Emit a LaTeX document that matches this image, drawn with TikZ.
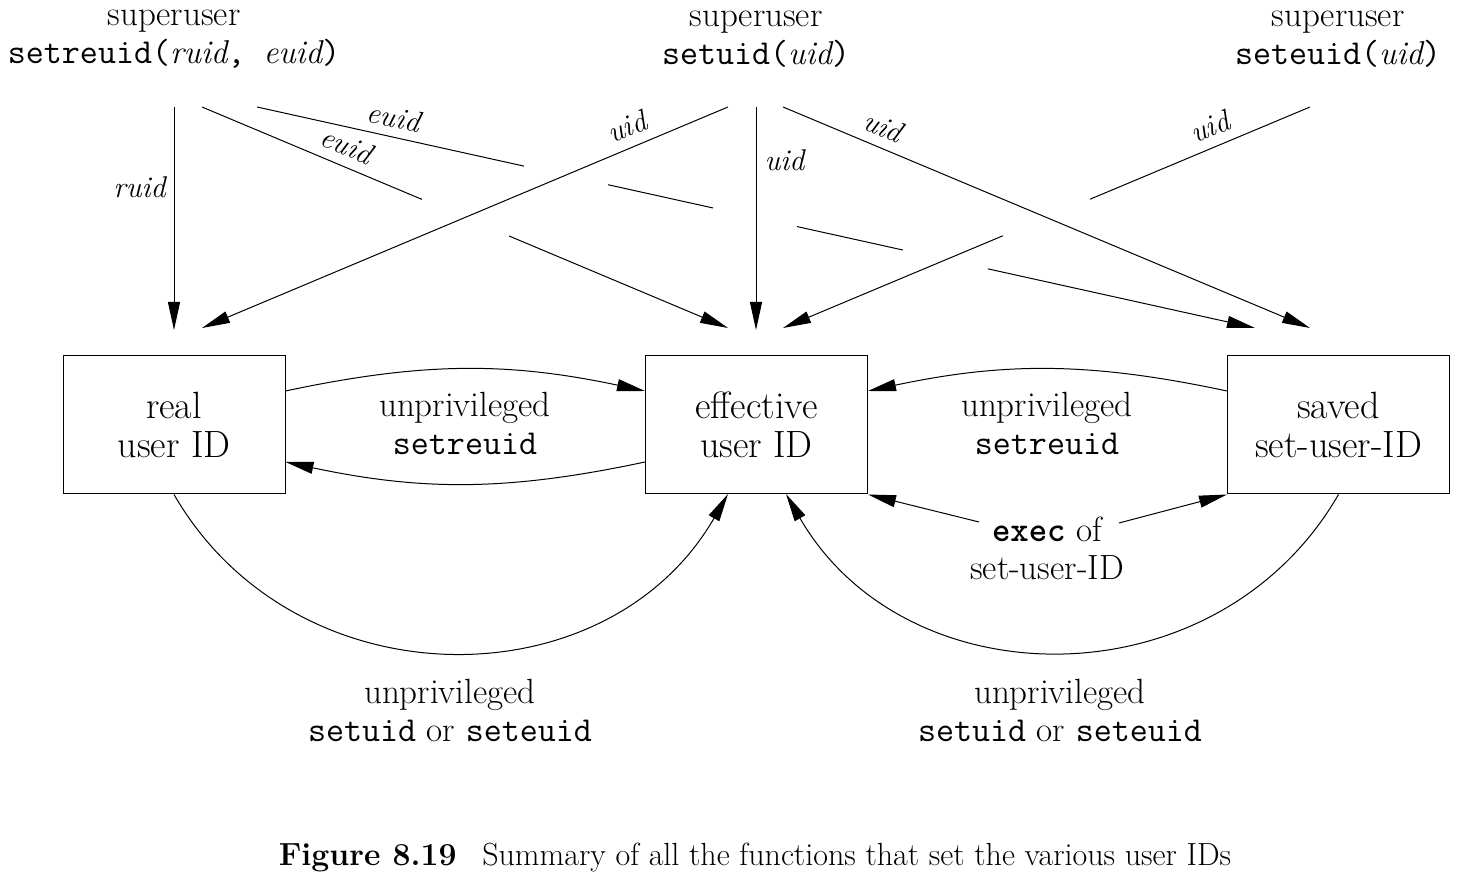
\documentclass[tikz,border=0pt]{standalone}
\usetikzlibrary{arrows.meta,calc}
\newcommand\boxfs{\fontsize{38}{39}\selectfont}
\newcommand\rmfs{\fontsize{35}{38}\selectfont}
\newcommand\itfs{\fontsize{30}{36}\selectfont\itshape}
\newcommand\itt[1]{{\fontsize{33}{38}\selectfont\itshape #1}}
\newcommand\ttc[1]{{\fontsize{35}{38}\selectfont\ttfamily #1}}
\begin{document}
\begin{tikzpicture}[x=1pt,y=1pt,
  box/.style={draw, line width=1pt, minimum width=222pt, minimum height=138pt, inner sep=0pt, align=center, font=\boxfs},
  lbl/.style={align=center, inner sep=0pt, font=\rmfs},
  ilbl/.style={inner sep=0pt, font=\itfs},
  ln/.style={line width=1pt},
  tip/.style={-{Triangle[length=28pt,width=12pt]}}]
\useasboundingbox (0,0) rectangle (1463,880);

% boxes
\node[box] (real) at (174,455) {real\\user ID};
\node[box] (eff) at (756.5,455) {effective\\user ID};
\node[box] (saved) at (1338.5,455) {saved\\set-user-ID};

% top labels
\node[lbl] (sreuid) at (174,841) {superuser\\\ttc{setreuid(}\itt{ruid}\ttc{, }\itt{euid}\ttc{)}};
\node[lbl] (suid) at (756,841) {superuser\\\ttc{setuid(}\itt{uid}\ttc{)}};
\node[lbl] (seuid) at (1338,841) {superuser\\\ttc{seteuid(}\itt{uid}\ttc{)}};

% start and end points
\coordinate (a1s) at (174,773); \coordinate (a1e) at (174,550);
\coordinate (a2s) at (202,773); \coordinate (a2e) at (728,552);
\coordinate (a3s) at (257,773); \coordinate (a3e) at (1255,552);
\coordinate (b1s) at (728,773); \coordinate (b1e) at (202,552);
\coordinate (b2s) at (756,773); \coordinate (b2e) at (756,550);
\coordinate (b3s) at (783,773); \coordinate (b3e) at (1310,552);
\coordinate (c1s) at (1310,773); \coordinate (c1e) at (783,552);

% setreuid lines
\draw[ln,tip] (a1s) -- node[ilbl,left=8pt,pos=0.36]{ruid} (a1e);
\path (a2s) -- node[ilbl,sloped,above=10pt,pos=0.26]{euid} (a2e);
\draw[ln] (a2s) -- ($(a2s)!0.418!(a2e)$);
\draw[ln,tip] ($(a2s)!0.584!(a2e)$) -- (a2e);
\path (a3s) -- node[ilbl,sloped,above=9pt,pos=0.133]{euid} (a3e);
\draw[ln] (a3s) -- ($(a3s)!0.2675!(a3e)$);
\draw[ln] ($(a3s)!0.3517!(a3e)$) -- ($(a3s)!0.4569!(a3e)$);
\draw[ln] ($(a3s)!0.5411!(a3e)$) -- ($(a3s)!0.6473!(a3e)$);
\draw[ln,tip] ($(a3s)!0.7325!(a3e)$) -- (a3e);

% setuid lines
\draw[ln,tip] (b1s) -- node[ilbl,sloped,above=10pt,pos=0.177]{uid} (b1e);
\draw[ln,tip] (b2s) -- node[ilbl,right=8pt,pos=0.24]{uid} (b2e);
\draw[ln,tip] (b3s) -- node[ilbl,sloped,above=10pt,pos=0.175]{uid} (b3e);

% seteuid line
\path (c1s) -- node[ilbl,sloped,above=10pt,pos=0.175]{uid} (c1e);
\draw[ln] (c1s) -- ($(c1s)!0.4175!(c1e)$);
\draw[ln,tip] ($(c1s)!0.5825!(c1e)$) -- (c1e);

% setreuid between real and effective
\draw[ln,tip] ($(real.east)+(0,34)$) to[bend left=12] ($(eff.west)+(0,34)$);
\draw[ln,tip] ($(eff.west)+(0,-37)$) to[bend left=12] ($(real.east)+(0,-37)$);
\node[lbl] (lab1) at (465,457) {unprivileged\\\ttc{setreuid}};

% saved to effective
\draw[ln,tip] ($(saved.west)+(0,34)$) to[bend right=12] ($(eff.east)+(0,34)$);
\node[lbl] (lab2) at (1047,457) {unprivileged\\\ttc{setreuid}};

% exec
\node[lbl] (exec) at (1047,332) {\ttc{\bfseries exec} of\\set-user-ID};
\coordinate (el) at (979,358);
\coordinate (er) at (1119,357);
\draw[ln,tip] (el) -- (eff.south east);
\draw[ln,tip] (er) -- (saved.south west);

% bottom arcs
\coordinate (effL) at (728,386);
\coordinate (effR) at (786,386);
\draw[ln,tip] (real.south) to[out=-60,in=-120,looseness=1.12] (effL);
\draw[ln,tip] (saved.south) to[out=-120,in=-60,looseness=1.12] (effR);
\node[lbl] (lab3) at (450,170) {unprivileged\\\ttc{setuid} or \ttc{seteuid}};
\node[lbl] (lab4) at (1060,170) {unprivileged\\\ttc{setuid} or \ttc{seteuid}};

% caption
\node[inner sep=0pt, font=\fontsize{32}{38}\selectfont] (cap) at (755,22) {\textbf{Figure 8.19}\hspace{0.8em}Summary of all the functions that set the various user IDs};
\end{tikzpicture}
\end{document}
